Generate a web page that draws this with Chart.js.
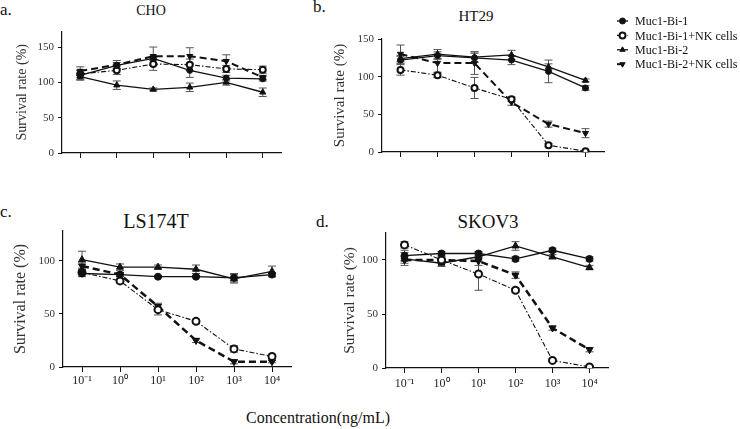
<!DOCTYPE html>
<html>
<head>
<meta charset="utf-8">
<script src="https://cdn.jsdelivr.net/npm/chart.js@4.4.0/dist/chart.umd.min.js"></script>
<style>
  body { margin: 0; width: 740px; height: 429px; background: #fff; position: relative; overflow: hidden;
         font-family: "Liberation Serif", "Times New Roman", serif; color: #111; }
  canvas { position: absolute; }
  .txt { position: absolute; white-space: nowrap; line-height: 1; }
  .mid { transform: translateX(-50%); }
</style>
</head>
<body>
<div class="txt" style="left:0px;top:1px;font-size:17px">a.</div>
<div class="txt" style="left:313px;top:-2px;font-size:17px">b.</div>
<div class="txt" style="left:0px;top:203px;font-size:17px">c.</div>
<div class="txt" style="left:316px;top:213px;font-size:17px">d.</div>
<div class="txt mid" style="left:151px;top:4px;font-size:14px">CHO</div>
<div class="txt mid" style="left:476px;top:9px;font-size:15px">HT29</div>
<div class="txt mid" style="left:156px;top:211px;font-size:20px">LS174T</div>
<div class="txt mid" style="left:488px;top:212px;font-size:19px">SKOV3</div>
<div class="txt mid" style="left:318px;top:410px;font-size:16px">Concentration(ng/mL)</div>

<script>
// x categories (ng/mL) and series names
const concLabels = ['10⁻¹', '10⁰', '10¹', '10²', '10³', '10⁴'];
const seriesNames = ['Muc1-Bi-1', 'Muc1-Bi-1+NK cells', 'Muc1-Bi-2', 'Muc1-Bi-2+NK cells'];

// a. CHO
const choBi1   = [110, 124, 134, 117, 106, 105];
const choBi1NK = [112, 117, 126, 125, 119, 118];
const choBi2   = [108, 96, 90, 93, 100, 86];
const choBi2NK = [116, 125, 137, 137, 130, 107];
const choErrBi1   = [7, 4, 3, 10, 4, 3];
const choErrBi1NK = [5, 6, 9, 8, 5, 5];
const choErrBi2   = [4, 6, 2, 6, 4, 6];
const choErrBi2NK = [6, 6, 13, 12, 9, 3];

// b. HT29
const htBi1   = [122, 128, 125, 122, 107, 85];
const htBi1NK = [109, 102, 85, 70, 9, 1];
const htBi2   = [124, 130, 126, 129, 113, 95];
const htBi2NK = [130, 118, 118, 66, 37, 25];
const htErrBi1   = [5, 5, 6, 6, 15, 3];
const htErrBi1NK = [7, 3, 14, 3, 2, 1];
const htErrBi2   = [4, 6, 7, 6, 4, 2];
const htErrBi2NK = [12, 12, 15, 4, 4, 6];

// c. LS174T
const lsBi1   = [88, 87, 85, 85, 84, 87];
const lsBi1NK = [89, 81, 54, 43, 17, 10];
const lsBi2   = [101, 94, 94, 92, 83, 90];
const lsBi2NK = [95, 87, 57, 25, 5, 5];
const lsErrBi1   = [3, 2, 1, 1, 4, 2];
const lsErrBi1NK = [2, 2, 5, 2, 3, 2];
const lsErrBi2   = [8, 3, 2, 4, 4, 5];
const lsErrBi2NK = [3, 2, 3, 2, 2, 1];

// d. SKOV3
const skBi1   = [104, 106, 106, 101, 109, 101];
const skBi1NK = [114, 100, 87, 72, 7, 1];
const skBi2   = [101, 97, 103, 113, 103, 93];
const skBi2NK = [100, 100, 99, 86, 37, 17];
const skErrBi1   = [5, 2, 2, 2, 2, 2];
const skErrBi1NK = [3, 2, 15, 2, 1, 1];
const skErrBi2   = [6, 3, 4, 4, 2, 2];
const skErrBi2NK = [3, 3, 4, 3, 2, 2];

const serif = '"Liberation Serif", "Times New Roman", serif';
const ink = '#111';

// marker / line look of the 4 series
const seriesLook = [
  { pointStyle: 'circle',   rotation: 0,   dash: [],            bg: ink },
  { pointStyle: 'circle',   rotation: 0,   dash: [5, 2, 1.5, 2], bg: '#fff' },
  { pointStyle: 'triangle', rotation: 0,   dash: [],            bg: ink },
  { pointStyle: 'triangle', rotation: 180, dash: [7, 4],        bg: ink }
];

const errorBars = {
  id: 'errorBars',
  beforeDatasetsDraw(chart) {
    const {ctx, scales: {y}} = chart;
    ctx.save();
    ctx.strokeStyle = '#555';
    ctx.lineWidth = 1;
    chart.data.datasets.forEach((ds, i) => {
      const meta = chart.getDatasetMeta(i);
      (ds.errors || []).forEach((e, j) => {
        const pt = meta.data[j];
        if (!pt || !e) return;
        const v = ds.data[j];
        const top = y.getPixelForValue(v + e);
        const bot = y.getPixelForValue(Math.max(v - e, 0));
        ctx.beginPath();
        ctx.moveTo(pt.x, top); ctx.lineTo(pt.x, bot);
        ctx.moveTo(pt.x - 4, top); ctx.lineTo(pt.x + 4, top);
        ctx.moveTo(pt.x - 4, bot); ctx.lineTo(pt.x + 4, bot);
        ctx.stroke();
      });
    });
    ctx.restore();
  }
};

// shared legend, drawn on the HT29 canvas to its right
const sharedLegend = {
  id: 'sharedLegend',
  afterDraw(chart) {
    const ctx = chart.ctx;
    const x0 = 617 - 320, y0 = 21, step = 14.4;
    ctx.save();
    chart.data.datasets.forEach((ds, i) => {
      const yy = y0 + i * step;
      ctx.strokeStyle = ink;
      ctx.lineWidth = ds.borderWidth;
      ctx.setLineDash(ds.borderDash);
      ctx.beginPath(); ctx.moveTo(x0, yy); ctx.lineTo(x0 + 11, yy); ctx.stroke();
      ctx.setLineDash([]);
      ctx.fillStyle = ds.pointBackgroundColor;
      ctx.lineWidth = ds.pointBorderWidth;
      Chart.helpers.drawPoint(ctx, {pointStyle: ds.pointStyle, radius: 3, rotation: ds.pointRotation, borderWidth: ds.pointBorderWidth}, x0 + 5.5, yy);
      ctx.fillStyle = ink;
      ctx.font = '12px ' + serif;
      ctx.textBaseline = 'middle';
      ctx.fillText(seriesNames[i], x0 + 18, yy + 1);
    });
    ctx.restore();
  }
};

function makePanel(cfg) {
  const cv = document.createElement('canvas');
  cv.width = cfg.w; cv.height = cfg.h;
  cv.style.left = cfg.x + 'px'; cv.style.top = cfg.y + 'px';
  cv.style.width = cfg.w + 'px'; cv.style.height = cfg.h + 'px';
  document.body.appendChild(cv);

  const half = cfg.yTitleSize * 1.2 / 2;
  const padLeft = cfg.yTitleX - cfg.x - half;

  const datasets = cfg.values.map((vals, i) => {
    const look = seriesLook[i];
    return {
      label: seriesNames[i],
      data: vals,
      errors: cfg.errors[i],
      borderColor: ink,
      borderWidth: i === 3 ? cfg.thick : (i === 1 ? 1.1 : 1.3),
      borderDash: look.dash,
      tension: 0,
      pointStyle: look.pointStyle,
      pointRotation: look.rotation,
      pointRadius: look.pointStyle === 'triangle' ? cfg.r + 0.5 : cfg.r,
      pointBackgroundColor: look.bg,
      pointBorderColor: ink,
      pointBorderWidth: i === 1 ? 2 : 1
    };
  });

  new Chart(cv, {
    type: 'line',
    data: { labels: concLabels, datasets },
    options: {
      responsive: false,
      animation: false,
      devicePixelRatio: 1,
      layout: { padding: { left: padLeft, top: cfg.area.t - cfg.y, right: cfg.x + cfg.w - cfg.area.r, bottom: 0 } },
      plugins: { legend: { display: false }, tooltip: { enabled: false } },
      scales: {
        x: {
          type: 'category',
          offset: true,
          grid: { drawOnChartArea: false, drawTicks: true, tickLength: 5, color: ink, offset: false },
          border: { display: true, color: ink, width: 1.2 },
          ticks: { display: cfg.showX, autoSkip: false, maxRotation: 0, padding: cfg.xPad,
                   color: '#222', font: { family: serif, size: 12 } },
          afterFit: s => { s.height = cfg.y + cfg.h - cfg.area.b; }
        },
        y: {
          min: 0,
          max: cfg.yMax,
          grid: { drawOnChartArea: false, drawTicks: true, tickLength: 4, color: ink },
          border: { display: true, color: ink, width: 1.2 },
          ticks: { stepSize: 50, includeBounds: false, padding: 4, color: '#333',
                   font: { family: serif, size: 11 } },
          title: { display: true, text: 'Survival rate (%)', color: '#333', padding: 0,
                   font: { family: serif, size: cfg.yTitleSize } },
          afterFit: s => { s.width = cfg.area.l - cfg.x - padLeft; }
        }
      }
    },
    plugins: cfg.legend ? [errorBars, sharedLegend] : [errorBars]
  });
}

makePanel({ x: 0, y: 0, w: 310, h: 200, area: { l: 62, r: 281, t: 31.5, b: 153 }, yMax: 172, yTitleX: 22, yTitleSize: 14,
  showX: false, xPad: 2, r: 3, thick: 2,
  values: [choBi1, choBi1NK, choBi2, choBi2NK], errors: [choErrBi1, choErrBi1NK, choErrBi2, choErrBi2NK] });

makePanel({ x: 320, y: 0, w: 420, h: 200, area: { l: 382, r: 604, t: 39, b: 152 }, yMax: 150, yTitleX: 340, yTitleSize: 15,
  showX: false, xPad: 2, r: 3, thick: 2, legend: true,
  values: [htBi1, htBi1NK, htBi2, htBi2NK], errors: [htErrBi1, htErrBi1NK, htErrBi2, htErrBi2NK] });

makePanel({ x: 0, y: 200, w: 310, h: 229, area: { l: 63, r: 291, t: 231, b: 367 }, yMax: 128, yTitleX: 21, yTitleSize: 16,
  showX: true, xPad: 2, r: 3.5, thick: 2.5,
  values: [lsBi1, lsBi1NK, lsBi2, lsBi2NK], errors: [lsErrBi1, lsErrBi1NK, lsErrBi2, lsErrBi2NK] });

makePanel({ x: 320, y: 200, w: 420, h: 229, area: { l: 386, r: 608, t: 233, b: 368 }, yMax: 125, yTitleX: 350, yTitleSize: 15.5,
  showX: true, xPad: 4, r: 3.5, thick: 2.5,
  values: [skBi1, skBi1NK, skBi2, skBi2NK], errors: [skErrBi1, skErrBi1NK, skErrBi2, skErrBi2NK] });
</script>
</body>
</html>
